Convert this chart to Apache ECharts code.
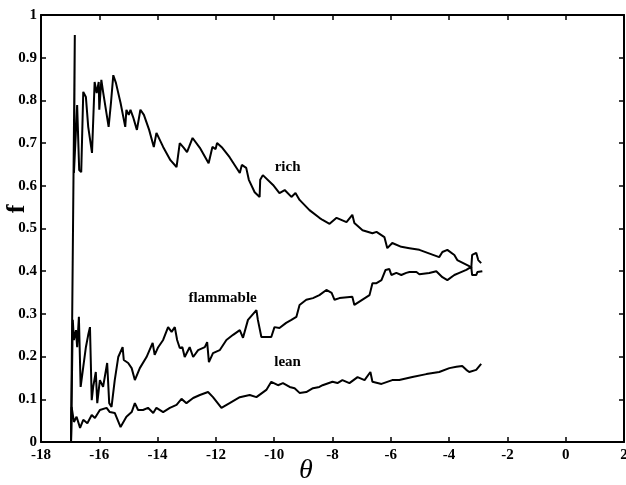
<!DOCTYPE html>
<html>
<head>
<meta charset="utf-8">
<script src="https://cdn.jsdelivr.net/npm/echarts@6/dist/echarts.min.js"></script>
<style>html,body{margin:0;padding:0;background:#fff}#c{width:626px;height:485px}</style>
</head>
<body>
<div id="c"></div>
<script>
var xTicks = [-18, -16, -14, -12, -10, -8, -6, -4, -2, 0, 2];
var yTicks = [0, 0.1, 0.2, 0.3, 0.4, 0.5, 0.6, 0.7, 0.8, 0.9, 1];

var rich = [[-16.97,0],[-16.84,0.953],[-16.87,0.630],[-16.76,0.789],[-16.69,0.637],[-16.62,0.632],[-16.55,0.820],[-16.46,0.808],[-16.38,0.738],[-16.25,0.677],[-16.16,0.843],[-16.09,0.817],[-16.02,0.843],[-16.00,0.778],[-15.93,0.848],[-15.87,0.820],[-15.68,0.738],[-15.60,0.794],[-15.52,0.859],[-15.43,0.841],[-15.27,0.794],[-15.11,0.738],[-15.07,0.778],[-14.99,0.766],[-14.93,0.778],[-14.84,0.761],[-14.71,0.731],[-14.59,0.778],[-14.47,0.766],[-14.29,0.731],[-14.13,0.691],[-14.04,0.724],[-13.81,0.691],[-13.56,0.660],[-13.35,0.644],[-13.24,0.700],[-13.10,0.689],[-12.99,0.679],[-12.92,0.691],[-12.80,0.712],[-12.55,0.689],[-12.25,0.653],[-12.12,0.691],[-12.01,0.686],[-11.96,0.700],[-11.78,0.689],[-11.53,0.667],[-11.18,0.630],[-11.11,0.649],[-10.96,0.642],[-10.87,0.614],[-10.67,0.585],[-10.50,0.574],[-10.48,0.614],[-10.39,0.625],[-10.04,0.602],[-9.82,0.583],[-9.64,0.590],[-9.41,0.574],[-9.27,0.583],[-9.13,0.567],[-8.79,0.543],[-8.45,0.525],[-8.34,0.520],[-8.10,0.511],[-7.86,0.525],[-7.52,0.515],[-7.32,0.532],[-7.25,0.513],[-6.97,0.496],[-6.63,0.489],[-6.49,0.492],[-6.22,0.480],[-6.12,0.454],[-5.95,0.466],[-5.64,0.457],[-5.36,0.454],[-5.02,0.450],[-4.34,0.433],[-4.23,0.445],[-4.06,0.450],[-3.82,0.438],[-3.72,0.426],[-3.31,0.412],[-3.24,0.407],[-3.21,0.438],[-3.07,0.443],[-3.00,0.426],[-2.90,0.419]];

var flammable = [[-16.97,0],[-16.91,0.286],[-16.87,0.239],[-16.80,0.262],[-16.76,0.222],[-16.70,0.293],[-16.64,0.129],[-16.55,0.176],[-16.46,0.222],[-16.38,0.251],[-16.32,0.269],[-16.26,0.098],[-16.21,0.129],[-16.12,0.164],[-16.07,0.091],[-15.98,0.145],[-15.87,0.129],[-15.73,0.185],[-15.66,0.091],[-15.58,0.082],[-15.47,0.145],[-15.35,0.199],[-15.20,0.222],[-15.16,0.192],[-15.01,0.185],[-14.89,0.173],[-14.78,0.145],[-14.61,0.173],[-14.38,0.199],[-14.17,0.232],[-14.10,0.204],[-13.98,0.222],[-13.81,0.239],[-13.64,0.269],[-13.52,0.258],[-13.41,0.269],[-13.33,0.239],[-13.24,0.220],[-13.15,0.222],[-13.07,0.199],[-12.90,0.222],[-12.78,0.199],[-12.61,0.215],[-12.38,0.222],[-12.30,0.234],[-12.24,0.187],[-12.10,0.208],[-11.87,0.215],[-11.64,0.239],[-11.41,0.251],[-11.18,0.262],[-11.07,0.244],[-10.90,0.286],[-10.61,0.309],[-10.56,0.286],[-10.44,0.246],[-10.27,0.246],[-10.10,0.246],[-9.99,0.269],[-9.82,0.267],[-9.59,0.279],[-9.41,0.286],[-9.24,0.293],[-9.13,0.321],[-8.90,0.333],[-8.67,0.337],[-8.45,0.344],[-8.21,0.356],[-8.03,0.349],[-7.93,0.333],[-7.76,0.337],[-7.32,0.340],[-7.25,0.321],[-6.73,0.344],[-6.63,0.372],[-6.49,0.372],[-6.32,0.379],[-6.18,0.403],[-6.05,0.405],[-5.98,0.391],[-5.81,0.396],[-5.64,0.391],[-5.47,0.396],[-5.36,0.398],[-5.12,0.398],[-5.02,0.393],[-4.68,0.396],[-4.44,0.400],[-4.23,0.386],[-4.06,0.379],[-3.82,0.391],[-3.65,0.396],[-3.41,0.403],[-3.24,0.410],[-3.21,0.391],[-3.07,0.391],[-3.03,0.398],[-2.86,0.400]];

var lean = [[-16.97,0],[-16.95,0.082],[-16.87,0.047],[-16.78,0.059],[-16.66,0.033],[-16.55,0.052],[-16.41,0.044],[-16.26,0.063],[-16.15,0.056],[-15.98,0.075],[-15.75,0.080],[-15.64,0.070],[-15.47,0.068],[-15.27,0.035],[-15.07,0.059],[-14.89,0.070],[-14.78,0.091],[-14.67,0.075],[-14.50,0.075],[-14.33,0.080],[-14.15,0.068],[-14.04,0.080],[-13.81,0.070],[-13.58,0.080],[-13.35,0.087],[-13.18,0.101],[-13.01,0.091],[-12.78,0.103],[-12.55,0.110],[-12.27,0.117],[-12.10,0.105],[-11.81,0.080],[-11.53,0.091],[-11.18,0.105],[-10.84,0.110],[-10.61,0.105],[-10.27,0.122],[-10.10,0.141],[-9.87,0.133],[-9.70,0.138],[-9.47,0.129],[-9.30,0.126],[-9.13,0.115],[-8.90,0.117],[-8.67,0.126],[-8.45,0.129],[-8.34,0.133],[-8.00,0.141],[-7.83,0.138],[-7.66,0.145],[-7.42,0.138],[-7.14,0.152],[-6.90,0.145],[-6.70,0.164],[-6.63,0.141],[-6.32,0.136],[-5.95,0.145],[-5.71,0.145],[-5.26,0.152],[-4.78,0.159],[-4.34,0.164],[-3.99,0.173],[-3.75,0.176],[-3.55,0.178],[-3.41,0.169],[-3.31,0.164],[-3.07,0.169],[-2.90,0.183]];

var curveNames = ['rich', 'flammable', 'lean'];
var curveLabelAt = [[-9.54, 0.644], [-11.77, 0.337], [-9.54, 0.187]];

var serif = '"Liberation Serif", "DejaVu Serif", serif';
var chart = echarts.init(document.getElementById('c'), null, {renderer: 'canvas'});

function lineSeries(name, data) {
  return {
    name: name, type: 'line', data: data, showSymbol: false, symbol: 'none',
    lineStyle: {color: '#000', width: 2}, animation: false, clip: false
  };
}

var axisLine = {show: true, onZero: false, lineStyle: {color: '#000', width: 2}};
var tick = {show: true, inside: true, length: 5, lineStyle: {color: '#000', width: 1.5}};

chart.setOption({
  animation: false,
  backgroundColor: '#fff',
  grid: {left: 41, right: 2, top: 15, bottom: 43, containLabel: false, outerBoundsMode: 'none'},
  xAxis: [{
    type: 'value', min: xTicks[0], max: xTicks[xTicks.length - 1], interval: 2,
    axisLine: axisLine, axisTick: tick, splitLine: {show: false},
    axisLabel: {color: '#000', fontFamily: serif, fontWeight: 'bold', fontSize: 15, margin: 6},
    name: 'θ', nameLocation: 'middle', nameGap: 15, nameMoveOverlap: false,
    nameTextStyle: {color: '#000', fontFamily: serif, fontStyle: 'italic', fontSize: 28, padding: [0, 53, 0, 0]}
  }, {
    type: 'value', position: 'top', min: xTicks[0], max: xTicks[xTicks.length - 1], interval: 2,
    axisLine: axisLine, axisTick: tick, splitLine: {show: false}, axisLabel: {show: false}
  }],
  yAxis: [{
    type: 'value', min: yTicks[0], max: yTicks[yTicks.length - 1], interval: 0.1,
    axisLine: axisLine, axisTick: tick, splitLine: {show: false},
    axisLabel: {color: '#000', fontFamily: serif, fontWeight: 'bold', fontSize: 15, margin: 4},
    name: 'f', nameLocation: 'middle', nameGap: 11, nameMoveOverlap: false,
    nameTextStyle: {color: '#000', fontFamily: serif, fontWeight: 'bold', fontSize: 26, padding: [0, 0, 0, 39]}
  }, {
    type: 'value', position: 'right', min: yTicks[0], max: yTicks[yTicks.length - 1], interval: 0.1,
    axisLine: axisLine, axisTick: tick, splitLine: {show: false}, axisLabel: {show: false}
  }],
  series: [
    lineSeries(curveNames[0], rich),
    lineSeries(curveNames[1], flammable),
    lineSeries(curveNames[2], lean),
    {
      type: 'scatter', symbolSize: 0, silent: true, animation: false,
      itemStyle: {opacity: 1},
      data: curveLabelAt.map(function (p, i) { return {value: p, name: curveNames[i]}; }),
      label: {show: true, position: 'inside', formatter: '{b}', color: '#000', opacity: 1,
              fontFamily: serif, fontWeight: 'bold', fontSize: 15}
    }
  ]
});
</script>
</body>
</html>
